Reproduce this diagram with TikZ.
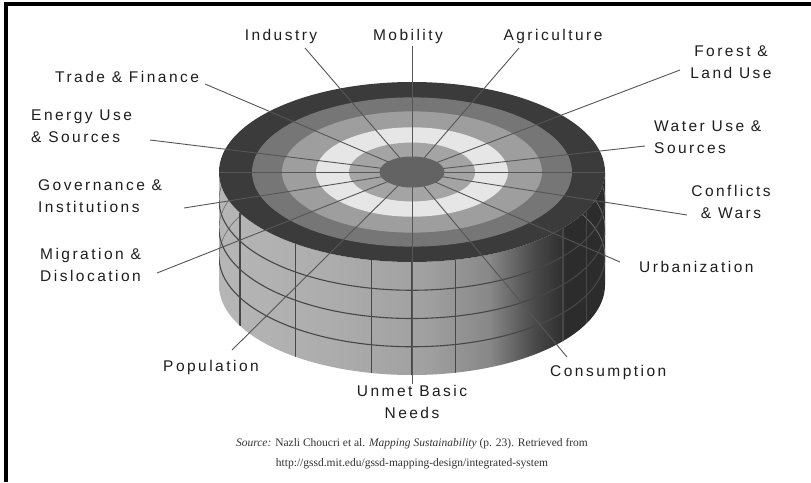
\documentclass[tikz,border=0pt]{standalone}
\usepackage{fontspec}
\setmainfont{Liberation Serif}
\newfontfamily\labfont[LetterSpace=16]{Liberation Sans}
\definecolor{ringA}{HTML}{3B3B3B}
\definecolor{ringB}{HTML}{767676}
\definecolor{ringC}{HTML}{9E9E9E}
\definecolor{ringD}{HTML}{E6E6E6}
\definecolor{ringE}{HTML}{A4A4A4}
\definecolor{ringF}{HTML}{636363}
\definecolor{sideA}{HTML}{B6B6B6}
\definecolor{sideB}{HTML}{ACACAC}
\definecolor{sideC}{HTML}{A0A0A0}
\definecolor{sideD}{HTML}{888888}
\definecolor{sideE}{HTML}{484848}
\definecolor{sideF}{HTML}{2C2C2C}
\definecolor{linecol}{HTML}{565656}
\definecolor{txt}{HTML}{1E1E1E}
\pgfdeclarehorizontalshading{cylside}{100bp}{color(0bp)=(sideA); color(25bp)=(sideA); color(40bp)=(sideB); color(52bp)=(sideC); color(60bp)=(sideD); color(66bp)=(sideE); color(70bp)=(sideF); color(75bp)=(sideF); color(100bp)=(sideF)}
\tikzset{
  lab/.style={font=\labfont\fontsize{15.5}{22.5}\selectfont, inner sep=0pt, text=txt, text height=11pt, text depth=3.5pt},
  captext/.style={font=\fontsize{11.5}{13}\selectfont, inner sep=0pt, text=black!80},
  leader/.style={draw=linecol, line width=0.9pt},
  gridline/.style={draw=black!72, line width=1.1pt},
  backgrid/.style={draw=black!55, line width=0.7pt}
}
\begin{document}
\begin{tikzpicture}[x=1pt,y=-1pt]
\useasboundingbox (0,0) rectangle (811,482);
\fill[white] (0,0) rectangle (811,482);
% frame
\fill[black] (4,2) rectangle (8,482);
\fill[black] (4,2) rectangle (811,5.5);
% cylinder side
\def\sidepath{(219,172) -- (219,285) arc[start angle=180,end angle=0,x radius=193,y radius=90] -- (605,172) arc[start angle=0,end angle=180,x radius=193,y radius=90] -- cycle}
\shade[shading=cylside] \sidepath;
\begin{scope}
  \clip \sidepath;
  \foreach \k in {1,2,3}{
    \draw[backgrid] (219,{172+28.25*\k}) arc[start angle=180,end angle=360,x radius=193,y radius=90];
  }
  \foreach \a in {153,127.3,102,90,77,38.5,25}{
    \draw[gridline] ({412+193*cos(\a)},{172+90*sin(\a)}) -- ++(0,113);
  }
  \foreach \k in {1,2,3}{
    \draw[gridline] (219,{172+28.25*\k}) arc[start angle=180,end angle=0,x radius=193,y radius=90];
  }
\end{scope}
% top face rings
\coordinate (c) at (412,172);
\fill[ringA] (c) ellipse[x radius=193, y radius=90];
\fill[ringB] (c) ellipse[x radius=160, y radius=74.6];
\fill[ringC] (c) ellipse[x radius=130, y radius=60.6];
\fill[ringD] (c) ellipse[x radius=96, y radius=44.7];
\fill[ringE] (c) ellipse[x radius=63, y radius=29.4];
% labels
\node[lab] (ind) at (281,37) {Industry};
\node[lab] (mob) at (408,37) {Mobility};
\node[lab] (agr) at (553,37) {Agriculture};
\node[lab,align=center] (for) at (731,75) {Forest \&\\Land Use};
\node[lab,align=left,anchor=west] (wat) at (654,150) {Water Use \&\\Sources};
\node[lab,align=center] (con) at (731,215) {Conflicts\\\& Wars};
\node[lab,anchor=west] (urb) at (639,269) {Urbanization};
\node[lab,anchor=west] (cons) at (550,373) {Consumption};
\node[lab,align=center] (unm) at (412,415) {Unmet Basic\\Needs};
\node[lab,anchor=west] (pop) at (163,368) {Population};
\node[lab,align=left,anchor=west] (mig) at (40,278) {Migration \&\\Dislocation};
\node[lab,align=left,anchor=west] (gov) at (38,209) {Governance \&\\Institutions};
\node[lab,align=left,anchor=west] (ene) at (31,139) {Energy Use\\\& Sources};
\node[lab,anchor=west] (tra) at (55,79) {Trade \& Finance};
% leader line ends
\coordinate (pind) at (305,48);
\coordinate (pmob) at (412,46);
\coordinate (pagr) at (519,48);
\coordinate (pfor) at (680,70);
\coordinate (pwat) at (645,146);
\coordinate (pcon) at (687,215);
\coordinate (purb) at (620,262);
\coordinate (pcons) at (567,357);
\coordinate (punm) at (412,384);
\coordinate (ppop) at (232,350);
\coordinate (pmig) at (157,273);
\coordinate (pgov) at (184,208);
\coordinate (pene) at (150,140);
\coordinate (ptra) at (205,84);
\coordinate (hl) at (219,172);
\coordinate (hr) at (605,172);
\foreach \p in {pind,pmob,pagr,pfor,pwat,pcon,purb,pcons,punm,ppop,pmig,pgov,pene,ptra}{
  \draw[leader] (\p) -- (c);
}
\draw[leader] (hl) -- (hr);
\fill[ringF] (c) ellipse[x radius=32.5, y radius=15.5];
% caption
\node[captext] (src) at (412,444) {\textit{Source:} Nazli Choucri et al. \textit{Mapping Sustainability} (p. 23). Retrieved from};
\node[captext] (url) at (412,464) {http://gssd.mit.edu/gssd-mapping-design/integrated-system};
\end{tikzpicture}
\end{document}
